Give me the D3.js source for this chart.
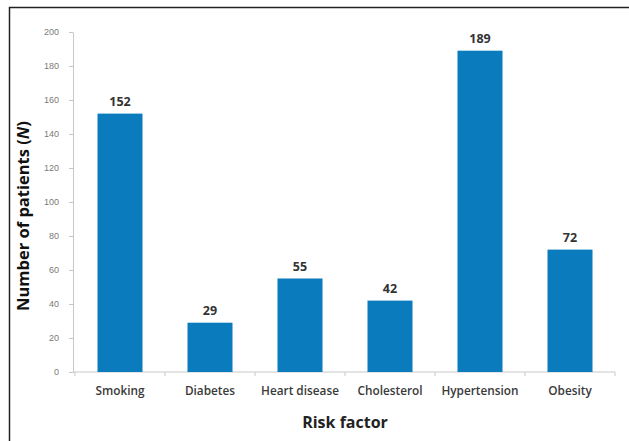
<!DOCTYPE html>
<html>
<head>
<meta charset="utf-8">
<script src="https://cdn.jsdelivr.net/npm/d3@7"></script>
<style>
  html, body { margin: 0; padding: 0; background: #fff; }
  svg { display: block; }
</style>
</head>
<body>
<script>
// Risk factors and patient counts
const categories = ["Smoking", "Diabetes", "Heart disease", "Cholesterol", "Hypertension", "Obesity"];
const patients = [152, 29, 55, 42, 189, 72];
const yTicks = [0, 20, 40, 60, 80, 100, 120, 140, 160, 180, 200];

const W = 629, H = 441;
const plot = { left: 73, right: 615, top: 32, bottom: 372 };

const svg = d3.select("body").append("svg")
  .attr("width", W).attr("height", H)
  .style("font-family", "'Open Sans', 'Noto Sans', sans-serif");

// frame
svg.append("path")
  .attr("d", `M9.5,${H} V7.5 H${W}`)
  .attr("fill", "none").attr("stroke", "#222").attr("stroke-width", 1.5);

const x = d3.scaleBand()
  .domain(categories)
  .range([plot.left + 2, plot.right])
  .paddingInner(0.5).paddingOuter(0.25);

const y = d3.scaleLinear()
  .domain([0, 200])
  .range([plot.bottom, plot.top]);

// y axis
const yAxis = svg.append("g")
  .attr("transform", `translate(${plot.left},0)`)
  .call(d3.axisLeft(y).tickValues(yTicks).tickSize(4).tickPadding(10).tickSizeOuter(0));
yAxis.select(".domain").attr("stroke", "#c8c8c8");
yAxis.selectAll(".tick line").attr("stroke", "#c8c8c8");
yAxis.selectAll(".tick text").attr("fill", "#7a7a7a").style("font-size", "9px");

// x axis with ticks between categories
const xAxisG = svg.append("g").attr("transform", `translate(0,${y(0)})`);
xAxisG.append("line")
  .attr("x1", plot.left).attr("x2", plot.right)
  .attr("stroke", "#c8c8c8");
const step = x.step();
const x0 = x.range()[0];
const boundaries = d3.range(categories.length + 1).map(i => x0 + i * step);
xAxisG.selectAll("line.sep").data(boundaries).join("line")
  .attr("class", "sep")
  .attr("x1", d => d).attr("x2", d => d)
  .attr("y1", 0).attr("y2", 4)
  .attr("stroke", "#c8c8c8");
xAxisG.selectAll("text.cat").data(categories).join("text")
  .attr("class", "cat")
  .attr("x", d => x(d) + x.bandwidth() / 2)
  .attr("y", 23)
  .attr("text-anchor", "middle")
  .attr("fill", "#3a3a3a")
  .style("font-size", "11.8px").style("font-weight", "600")
  .text(d => d);

// bars
svg.selectAll("rect.bar").data(categories).join("rect")
  .attr("class", "bar")
  .attr("x", d => x(d))
  .attr("width", x.bandwidth())
  .attr("y", (d, i) => y(patients[i]))
  .attr("height", (d, i) => y(0) - y(patients[i]))
  .attr("fill", "#0a7bbd");

// value labels
svg.selectAll("text.val").data(categories).join("text")
  .attr("class", "val")
  .attr("x", d => x(d) + x.bandwidth() / 2)
  .attr("y", (d, i) => y(patients[i]) - 8)
  .attr("text-anchor", "middle")
  .attr("fill", "#333")
  .style("font-size", "12.5px").style("font-weight", "700")
  .text((d, i) => patients[i]);

// axis titles
svg.append("text")
  .attr("transform", `translate(29,216) rotate(-90)`)
  .attr("text-anchor", "middle")
  .attr("fill", "#111")
  .style("font-size", "16.5px").style("font-weight", "700")
  .call(t => {
    t.append("tspan").text("Number of patients (");
    t.append("tspan").style("font-style", "italic").text("N");
    t.append("tspan").text(")");
  });

svg.append("text")
  .attr("x", 345).attr("y", 428)
  .attr("text-anchor", "middle")
  .attr("fill", "#222")
  .style("font-size", "16px").style("font-weight", "700")
  .text("Risk factor");
</script>
</body>
</html>
